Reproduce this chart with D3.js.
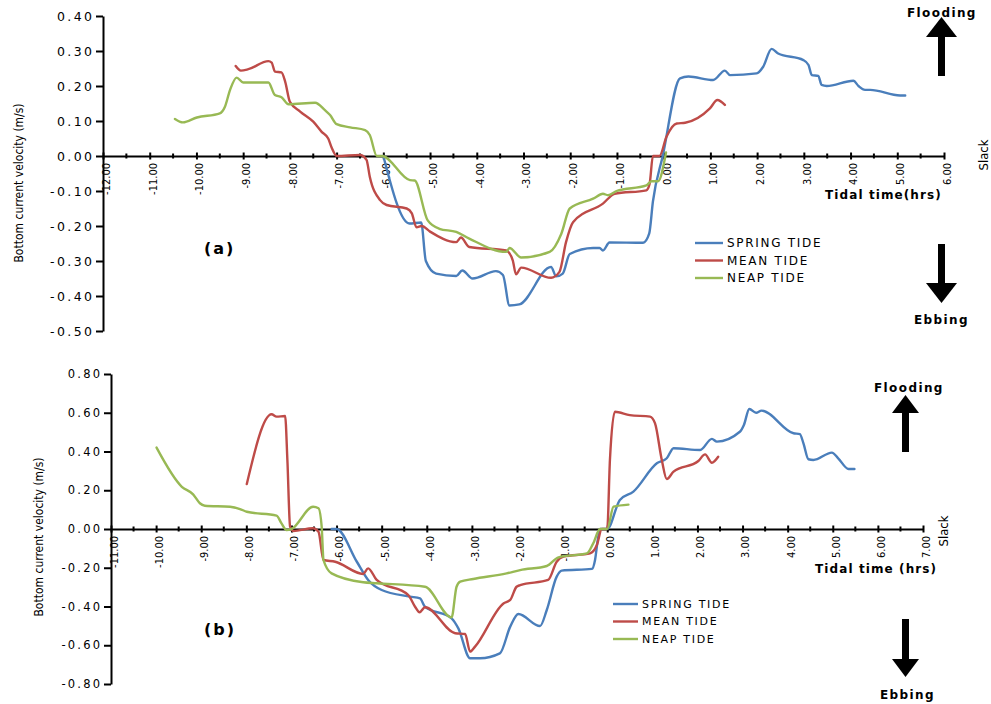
<!DOCTYPE html>
<html>
<head>
<meta charset="utf-8">
<script src="https://cdn.jsdelivr.net/npm/d3@7/dist/d3.min.js"></script>
<style>
body { margin: 0; background: #fff; }
svg { display: block; }
.axis path, .axis line { stroke: #000; stroke-width: 2; }
.xlab { font-family: "Liberation Sans Narrow", "DejaVu Sans Condensed", sans-serif; font-size: 11px; }
.ylab { font-family: "DejaVu Sans", Verdana, sans-serif; }
.ttl { font-family: "Liberation Sans Narrow", "DejaVu Sans Condensed", sans-serif; font-size: 12px; }
.bold { font-family: "DejaVu Sans", Verdana, sans-serif; font-weight: bold; }
.leg { font-family: "DejaVu Sans", Verdana, sans-serif; }
</style>
</head>
<body>
<div id="chart"></div>
<script>
// ---- panel (a) values: tidal time (hrs) / bottom velocity (m/s)
let springA_t = [-6.0,-5.44,-5.19,-5.09,-4.87,-4.44,-4.31,-4.09,-3.59,-3.44,-3.3,-3.09,-2.41,-2.3,-2.16,-2.01,-1.51,-1.37,-1.3,-1.16,-0.44,-0.31,-0.23,-0.02,0.35,0.53,1.06,1.31,1.42,1.99,2.13,2.31,2.45,2.99,3.10,3.17,3.31,3.38,3.49,4.06,4.17,4.31,4.42,5.06,5.17];
let springA_v = [0,-0.193,-0.19,-0.30,-0.336,-0.343,-0.327,-0.35,-0.329,-0.34,-0.427,-0.424,-0.317,-0.344,-0.336,-0.28,-0.263,-0.263,-0.27,-0.247,-0.248,-0.222,-0.13,0,0.222,0.227,0.217,0.244,0.231,0.236,0.255,0.306,0.293,0.274,0.26,0.231,0.229,0.203,0.2,0.215,0.2,0.189,0.189,0.173,0.173];

let meanA_t = [-9.16,-9.05,-8.89,-8.46,-8.39,-8.32,-8.18,-8.10,-8.0,-7.78,-7.5,-7.32,-7.18,-7.1,-7.0,-6.5,-6.36,-6.29,-6.07,-5.93,-5.5,-5.39,-5.29,-5.18,-5.0,-4.44,-4.34,-4.16,-3.37,-3.23,-3.16,-3.05,-2.41,-2.23,-2.09,-1.94,-1.3,-1.05,-0.37,-0.3,-0.23,-0.09,0.06,0.28,0.46,0.99,1.15,1.31];
let meanA_v = [0.257,0.244,0.248,0.271,0.267,0.241,0.239,0.212,0.155,0.127,0.098,0.069,0.05,0.022,0,0.003,-0.011,-0.059,-0.126,-0.14,-0.15,-0.164,-0.204,-0.2,-0.216,-0.246,-0.233,-0.26,-0.27,-0.298,-0.338,-0.319,-0.348,-0.331,-0.246,-0.189,-0.136,-0.108,-0.098,-0.079,0,0,0.055,0.093,0.095,0.136,0.16,0.146];

let neapA_t = [-10.46,-10.29,-9.99,-9.5,-9.39,-9.28,-9.14,-9.0,-8.46,-8.32,-8.18,-8.03,-7.46,-7.25,-7.14,-7.0,-6.71,-6.39,-6.29,-6.14,-6.03,-5.43,-5.33,-5.05,-4.8,-4.44,-4.16,-3.37,-3.3,-3.05,-2.44,-2.19,-2.01,-1.51,-1.3,-1.19,-1.01,-0.37,-0.26,-0.12,0.05];
let neapA_v = [0.106,0.096,0.11,0.122,0.141,0.189,0.224,0.21,0.21,0.174,0.168,0.148,0.152,0.131,0.117,0.091,0.082,0.074,0.06,0,0,-0.069,-0.07,-0.184,-0.208,-0.217,-0.236,-0.274,-0.263,-0.29,-0.274,-0.222,-0.15,-0.122,-0.108,-0.112,-0.1,-0.084,-0.072,-0.072,0.01];

// ---- panel (b)
let springB_t = [-6.11,-6.0,-5.55,-5.3,-5.0,-4.37,-4.15,-4.04,-3.45,-3.3,-3.04,-2.82,-2.38,-2.15,-1.97,-1.49,-1.34,-1.12,-1.01,-0.34,-0.27,-0.21,-0.16,0.0,0.28,0.58,1.1,1.32,1.47,2.06,2.32,2.43,2.94,3.03,3.15,3.3,3.42,4.13,4.27,4.35,4.46,4.57,4.98,5.12,5.35,5.48];
let springB_v = [0,0,-0.169,-0.263,-0.315,-0.349,-0.358,-0.401,-0.461,-0.513,-0.667,-0.667,-0.642,-0.504,-0.439,-0.501,-0.418,-0.246,-0.215,-0.206,-0.16,-0.057,0,0,0.15,0.193,0.339,0.365,0.417,0.408,0.465,0.451,0.502,0.537,0.619,0.6,0.611,0.494,0.49,0.442,0.36,0.356,0.394,0.365,0.31,0.31];

let meanB_t = [-7.99,-7.44,-7.33,-7.14,-7.09,-7.03,-6.96,-6.52,-6.4,-6.29,-6.03,-5.41,-5.3,-5.11,-4.41,-4.26,-4.16,-4.04,-3.37,-3.15,-3.04,-2.93,-2.3,-2.15,-2.01,-1.93,-1.31,-1.12,-0.97,-0.38,-0.23,-0.12,0.0,0.06,0.17,0.5,0.95,1.06,1.21,1.32,1.47,2.02,2.17,2.32,2.46];
let meanB_v = [0.232,0.592,0.58,0.583,0.356,0.012,-0.01,0.004,-0.014,-0.16,-0.169,-0.232,-0.203,-0.263,-0.341,-0.401,-0.43,-0.404,-0.538,-0.542,-0.633,-0.607,-0.384,-0.366,-0.298,-0.29,-0.263,-0.169,-0.143,-0.126,-0.083,0,0,0.356,0.605,0.588,0.58,0.545,0.356,0.258,0.296,0.351,0.385,0.342,0.373];

let neapB_t = [-9.99,-9.43,-9.18,-9.03,-8.92,-8.36,-8.14,-7.99,-7.33,-7.22,-7.11,-7.0,-6.52,-6.4,-6.33,-6.29,-6.11,-5.41,-5.11,-4.04,-3.45,-3.34,-3.26,-2.97,-2.23,-1.93,-1.34,-1.08,-0.45,-0.31,-0.16,0.0,0.14,0.47];
let neapB_v = [0.42,0.218,0.179,0.133,0.12,0.115,0.103,0.089,0.069,0.029,-0.005,0,0.115,0.107,0.012,-0.16,-0.229,-0.275,-0.28,-0.298,-0.456,-0.298,-0.272,-0.258,-0.229,-0.212,-0.191,-0.146,-0.126,-0.074,0,0,0.115,0.126];

let seriesNames = ["SPRING TIDE", "MEAN TIDE", "NEAP TIDE"];
let seriesColors = ["#4a7ebb", "#be4b48", "#98b954"];

let xTicksA = d3.range(-12, 6.01, 1);
let yTicksA = d3.range(-0.5, 0.401, 0.1);
let xTicksB = d3.range(-11, 7.01, 1);
let yTicksB = d3.range(-0.8, 0.801, 0.2);

function zip(t, v) {
    return t.map((d, i) => ({t: d, v: v[i]}));
}

// plain hyphen like the original, not the unicode minus
function fmt2(d) {
    if (Math.abs(d) < 1e-9) d = 0;
    return d3.format(".2f")(d).replace("\u2212", "-");
}

var svg = d3.select("#chart").append("svg")
    .attr("width", 991)
    .attr("height", 704);

function arrowUp(cx, top, headW, headH, bottom) {
    svg.append("path")
        .attr("d", "M" + (cx - headW / 2) + "," + (top + headH) + " L" + cx + "," + top + " L" + (cx + headW / 2) + "," + (top + headH) + " Z")
        .attr("fill", "#000");
    svg.append("rect").attr("x", cx - 3.5).attr("y", top + headH - 1).attr("width", 7).attr("height", bottom - top - headH + 1).attr("fill", "#000");
}
function arrowDown(cx, top, bottom, headW, headH) {
    svg.append("rect").attr("x", cx - 3.5).attr("y", top).attr("width", 7).attr("height", bottom - top - headH + 1).attr("fill", "#000");
    svg.append("path")
        .attr("d", "M" + (cx - headW / 2) + "," + (bottom - headH) + " L" + cx + "," + bottom + " L" + (cx + headW / 2) + "," + (bottom - headH) + " Z")
        .attr("fill", "#000");
}

function DrawPanel(p) {
    var xScale = d3.scaleLinear().domain(p.xDom).range(p.xRange);
    var yScale = d3.scaleLinear().domain(p.yDom).range(p.yRange);
    var y0 = yScale(0);

    // y axis
    var yAxis = d3.axisLeft(yScale).tickValues(p.yTicks).tickSize(7).tickSizeOuter(0).tickFormat(fmt2);
    var gy = svg.append("g").attr("class", "axis").attr("transform", "translate(" + p.xRange[0] + ",0)").call(yAxis);
    gy.selectAll("text").attr("class", "ylab").attr("x", -11 + p.ySpace)
        .style("font-size", p.yFont + "px").style("letter-spacing", p.ySpace + "px").attr("fill", "#000");

    // x axis with crossing ticks
    var xAxis = d3.axisBottom(xScale).tickValues(p.xTicks).tickSizeOuter(0).tickFormat("");
    var gx = svg.append("g").attr("class", "axis").attr("transform", "translate(0," + y0 + ")").call(xAxis);
    gx.selectAll(".tick line").attr("y1", -3.5).attr("y2", 3.5);
    var minor = p.xTicks.slice(0, -1).map(d => d + 0.5);
    svg.append("g").selectAll("line").data(minor).enter().append("line")
        .attr("x1", d => xScale(d)).attr("x2", d => xScale(d))
        .attr("y1", y0 - 2.5).attr("y2", y0 + 2.5)
        .attr("stroke", "#000").attr("stroke-width", 2);
    svg.append("g").selectAll("text").data(p.xTicks).enter().append("text")
        .attr("class", "xlab")
        .attr("transform", d => "translate(" + (xScale(d) + 3) + "," + (y0 + 7) + ") rotate(-90)")
        .attr("text-anchor", "end").attr("dy", "0.35em")
        .text(fmt2);

    // series
    var line = d3.line().x(d => xScale(d.t)).y(d => yScale(d.v)).curve(d3.curveMonotoneX);
    p.series.forEach((s, i) => {
        svg.append("path").datum(s)
            .attr("d", line)
            .attr("fill", "none")
            .attr("stroke", seriesColors[i])
            .attr("stroke-width", 2.4)
            .attr("stroke-linejoin", "round")
            .attr("stroke-linecap", "round");
    });

    // y title
    svg.append("text").attr("class", "ttl")
        .attr("transform", "translate(" + p.yTitle[0] + "," + p.yTitle[1] + ") rotate(-90)")
        .attr("text-anchor", "middle").attr("dy", "0.35em")
        .text("Bottom current velocity (m/s)");
    svg.append("text").attr("class", "ttl").style("font-size", "13px")
        .attr("transform", "translate(" + p.slack[0] + "," + p.slack[1] + ") rotate(-90)")
        .attr("text-anchor", "middle").attr("dy", "0.35em")
        .text("Slack");
    svg.append("text").attr("class", "bold").style("font-size", "12px").style("letter-spacing", "1.1px")
        .attr("x", p.xTitle[0]).attr("y", p.xTitle[1]).text(p.xTitleText);
    svg.append("text").attr("class", "bold").style("font-size", "16px").style("letter-spacing", "2px")
        .attr("x", p.tag[0]).attr("y", p.tag[1]).text(p.tagText);

    // legend
    seriesNames.forEach((n, i) => {
        var ly = p.leg[1] + i * p.leg[3];
        svg.append("line").attr("x1", p.leg[0]).attr("x2", p.leg[0] + p.leg[2])
            .attr("y1", ly).attr("y2", ly).attr("stroke", seriesColors[i]).attr("stroke-width", 2.4);
        svg.append("text").attr("class", "leg").style("font-size", p.legFont + "px").style("letter-spacing", "1.7px")
            .attr("x", p.leg[0] + p.leg[2] + 4).attr("y", ly).attr("dy", "0.36em").text(n);
    });

    // flooding / ebbing
    svg.append("text").attr("class", "bold").style("font-size", "12px").style("letter-spacing", "1.4px")
        .attr("x", p.flood[0]).attr("y", p.flood[1]).text("Flooding");
    svg.append("text").attr("class", "bold").style("font-size", "12px").style("letter-spacing", "1.4px")
        .attr("x", p.ebb[0]).attr("y", p.ebb[1]).text("Ebbing");
    arrowUp(p.arrowX, p.upArrow[0], p.arrowW, p.arrowH, p.upArrow[1]);
    arrowDown(p.arrowX, p.downArrow[0], p.downArrow[1], p.arrowW, p.arrowH);
}

DrawPanel({
    xDom: [-12, 6], xRange: [103, 944],
    yDom: [-0.5, 0.4], yRange: [331, 16],
    xTicks: xTicksA, yTicks: yTicksA,
    yFont: 12.5, ySpace: 2.4,
    series: [zip(springA_t, springA_v), zip(meanA_t, meanA_v), zip(neapA_t, neapA_v)],
    yTitle: [19, 183], slack: [983, 155],
    xTitle: [825, 199], xTitleText: "Tidal time(hrs)",
    tag: [204, 254], tagText: "(a)",
    leg: [695, 243, 28, 17.5], legFont: 12,
    flood: [907, 17], ebb: [914, 324],
    arrowX: 941.5, arrowW: 31, arrowH: 20,
    upArrow: [17, 76], downArrow: [244, 303]
});

DrawPanel({
    xDom: [-11, 7], xRange: [111, 923],
    yDom: [-0.8, 0.8], yRange: [684, 374],
    xTicks: xTicksB, yTicks: yTicksB,
    yFont: 11.5, ySpace: 2.2,
    series: [zip(springB_t, springB_v), zip(meanB_t, meanB_v), zip(neapB_t, neapB_v)],
    yTitle: [39, 537], slack: [943, 531],
    xTitle: [815, 573], xTitleText: "Tidal time (hrs)",
    tag: [204, 635], tagText: "(b)",
    leg: [613, 604, 25, 17.5], legFont: 11,
    flood: [874, 392], ebb: [880, 699],
    arrowX: 905.5, arrowW: 27, arrowH: 18,
    upArrow: [395, 452], downArrow: [619, 677]
});
</script>
</body>
</html>
